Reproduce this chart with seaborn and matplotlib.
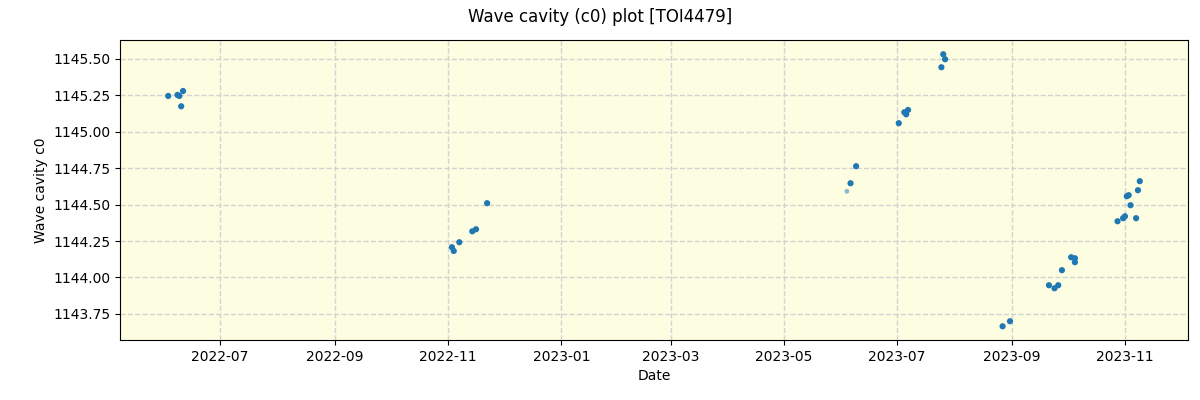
import matplotlib
matplotlib.use("Agg")
import matplotlib.pyplot as plt
import matplotlib.dates as mdates
import seaborn as sns
import pandas as pd

dates = ["2022-06-03", "2022-06-08", "2022-06-09", "2022-06-11", "2022-06-10",
         "2022-11-03", "2022-11-04", "2022-11-07", "2022-11-14", "2022-11-16", "2022-11-22",
         "2023-06-06", "2023-06-09", "2023-07-02", "2023-07-05", "2023-07-06", "2023-07-07",
         "2023-07-25", "2023-07-26", "2023-07-27",
         "2023-08-27", "2023-08-31", "2023-09-21", "2023-09-24", "2023-09-26", "2023-09-28",
         "2023-10-03", "2023-10-05", "2023-10-05", "2023-10-28", "2023-10-31", "2023-11-01",
         "2023-11-07", "2023-11-04", "2023-11-02", "2023-11-03", "2023-11-08", "2023-11-09"]
values = [1145.246, 1145.253, 1145.246, 1145.280, 1145.175,
          1144.208, 1144.182, 1144.242, 1144.317, 1144.331, 1144.510,
          1144.647, 1144.764, 1145.059, 1145.134, 1145.120, 1145.150,
          1145.443, 1145.532, 1145.498,
          1143.665, 1143.700, 1143.947, 1143.926, 1143.947, 1144.050,
          1144.139, 1144.132, 1144.105, 1144.386, 1144.407, 1144.420,
          1144.407, 1144.496, 1144.558, 1144.565, 1144.599, 1144.661]

faint_dates = ["2023-06-04"]
faint_values = [1144.592]

df = pd.DataFrame({"Date": pd.to_datetime(dates), "c0": values})
df_faint = pd.DataFrame({"Date": pd.to_datetime(faint_dates), "c0": faint_values})

fig = plt.figure(figsize=(12, 4), dpi=100)
ax = fig.add_axes([0.1, 0.15, 0.89, 0.75])
ax.set_facecolor("#fdfde1")
ax.grid(True, linestyle="--", color="lightgray", linewidth=1)
ax.set_axisbelow(True)

sns.scatterplot(data=df_faint, x="Date", y="c0", ax=ax, color="#1f77b4", s=12,
                alpha=0.5, edgecolor="none", zorder=3)
sns.scatterplot(data=df, x="Date", y="c0", ax=ax, color="#1f77b4", s=20,
                edgecolor="none", zorder=3)

ax.set_xlim(pd.Timestamp("2022-05-08"), pd.Timestamp("2023-12-05"))
ax.set_ylim(1143.571, 1145.63)
ax.xaxis.set_major_locator(mdates.MonthLocator(bymonth=[1, 3, 5, 7, 9, 11]))
ax.xaxis.set_major_formatter(mdates.DateFormatter("%Y-%m"))
ax.yaxis.set_major_formatter(matplotlib.ticker.FormatStrFormatter("%.2f"))
ax.set_xlabel("Date")
ax.set_ylabel("Wave cavity c0")
fig.suptitle("Wave cavity (c0) plot [TOI4479]", fontsize=12)

fig.savefig("out.png", dpi=100)
